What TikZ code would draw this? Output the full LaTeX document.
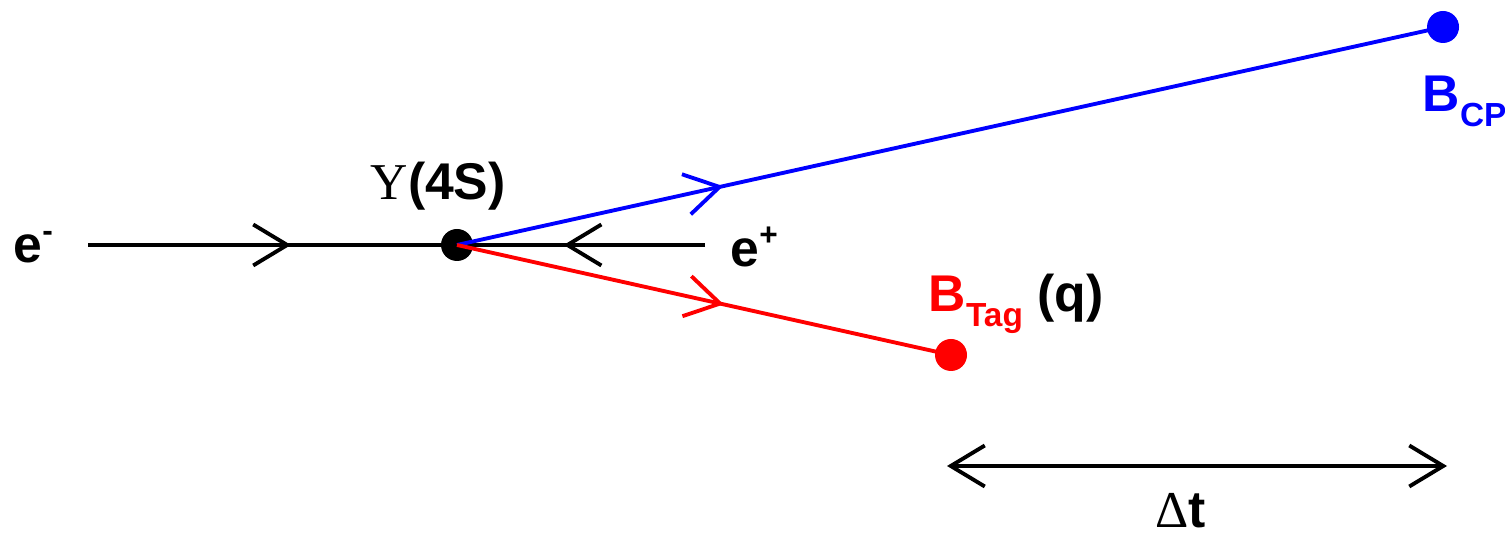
\documentclass[tikz,border=0pt]{standalone}
\usepackage{fontspec}
\setmainfont{Liberation Sans}
\newfontfamily\timesfont{Liberation Serif}
\usetikzlibrary{arrows.meta, decorations.markings}
\definecolor{cpblue}{RGB}{0,0,255}
\definecolor{tagred}{RGB}{255,0,0}
\newcommand{\lowsub}[1]{\raisebox{-4pt}{\fontsize{9.5}{10}\selectfont #1}}
\newcommand{\hisup}[1]{\raisebox{6pt}{\fontsize{9}{9}\selectfont #1}}

\begin{document}
\begin{tikzpicture}[
    lbl/.style={font=\fontsize{14.7}{17}\selectfont\bfseries, inner sep=0pt, anchor=base west},
    track/.style={line width=1.1pt},
    midarr/.style={postaction={decorate}, decoration={markings,
        mark=at position #1 with {\arrow{Straight Barb[length=3.4mm, width=4.1mm]}}}},
    dot/.style={radius=0.16}
  ]
  \useasboundingbox (0,0) rectangle (15.05,5.35);
  \coordinate (ein) at (0.88,2.90);
  \coordinate (ups) at (4.57,2.90);
  \coordinate (pin) at (7.05,2.90);
  \coordinate (bcp) at (14.43,5.08);
  \coordinate (btag) at (9.51,1.80);
  \coordinate (dl) at (9.47,0.69);
  \coordinate (dr) at (14.47,0.69);
  % beams
  \draw[track, midarr=0.55] (ein) -- (ups);
  \draw[track, midarr=0.57] (pin) -- (ups);
  \fill (ups) circle[dot];
  % B mesons
  \draw[track, cpblue, midarr=0.27] (ups) -- (bcp);
  \draw[track, tagred, midarr=0.54] (ups) -- (btag);
  \fill[cpblue] (bcp) circle[dot];
  \fill[tagred] (btag) circle[dot];
  % time difference
  \draw[track, {Straight Barb[length=3.4mm, width=4.1mm]}-{Straight Barb[length=3.4mm, width=4.1mm]}] (dl) -- (dr);
  % labels
  \node[lbl] (eml) at (0.13,2.72) {e\hisup{-}};
  \node[lbl] (epl) at (7.30,2.68) {e\hisup{+}};
  \node[lbl] (upsl) at (3.70,3.35) {{\timesfont\mdseries Υ}(4S)};
  \node[lbl, text=cpblue] (bcpl) at (14.22,4.23) {B\lowsub{CP}};
  \node[lbl, text=tagred] (btagl) at (9.28,2.23) {B\lowsub{Tag} \textcolor{black}{(q)}};
  \node[lbl] (dtl) at (11.55,0.07) {{\timesfont\mdseries Δ}t};
\end{tikzpicture}
\end{document}
